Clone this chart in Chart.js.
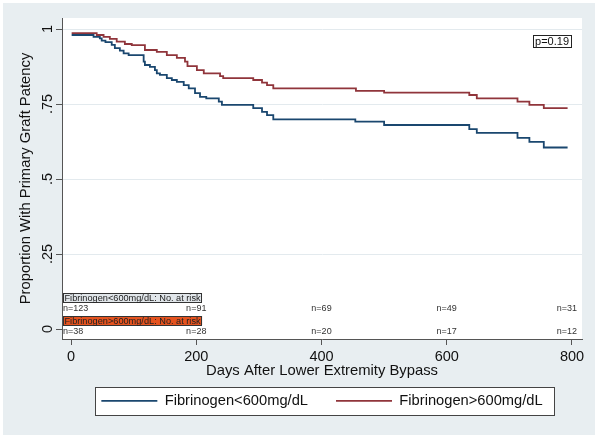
<!DOCTYPE html>
<html>
<head>
<meta charset="utf-8">
<script src="https://cdn.jsdelivr.net/npm/chart.js@4.4.1/dist/chart.umd.min.js"></script>
<style>
  html, body { margin: 0; padding: 0; background: #fff; }
  #wrap { width: 601px; height: 439px; }
</style>
</head>
<body>
<div id="wrap"><canvas id="km" width="601" height="439"></canvas></div>
<script>
// Kaplan-Meier steps (day of event, proportion after it)
const lowDays = [1, 36, 46, 49, 55, 65, 70, 78, 84, 92, 116, 118, 126, 134, 137, 142, 153, 161, 169, 180,
  188, 198, 206, 216, 236, 241, 291, 305, 313, 323, 454, 500, 636, 648, 713, 732, 755, 793];
const lowSurv = [.980, .974, .969, .961, .956, .947, .936, .928, .919, .913, .891, .880, .874, .863, .852, .847, .836, .830, .824, .813,
  .802, .786, .774, .769, .758, .747, .736, .724, .713, .699, .691, .680, .666, .654, .637, .624, .605, .605];

const highDays = [1, 41, 52, 62, 73, 86, 97, 118, 137, 153, 169, 182, 186, 201, 212, 238, 243, 291, 305, 313,
  323, 455, 500, 636, 648, 713, 732, 755, 793];
const highSurv = [.986, .980, .974, .967, .958, .950, .946, .930, .924, .913, .904, .891, .876, .863, .852, .843, .836, .830, .821, .813,
  .802, .794, .788, .780, .769, .758, .747, .736, .736];

const seriesNames = ['Fibrinogen<600mg/dL', 'Fibrinogen>600mg/dL'];
const seriesColors = ['#1a476f', '#90353b'];

// number at risk table
const riskDays = [0, 200, 400, 600, 800];
const riskLow = [123, 91, 69, 49, 31];
const riskHigh = [38, 28, 20, 17, 12];

const xTicks = [0, 200, 400, 600, 800];
const yTicks = [0, .25, .5, .75, 1];
const yTickLabels = ['0', '.25', '.5', '.75', '1'];
const pValue = 'p=0.19';

const FONT = '"Liberation Sans", Arial, sans-serif';
Chart.defaults.font.family = FONT;
Chart.defaults.color = '#111';

function toPoints(days, surv) {
  return days.map((d, i) => ({ x: d, y: surv[i] }));
}

const stataPlugin = {
  id: 'stata',
  beforeDraw(chart) {
    const { ctx, chartArea: a } = chart;
    ctx.save();
    ctx.fillStyle = '#e8eef1';
    ctx.fillRect(3, 3, 592, 432);
    ctx.fillStyle = '#ffffff';
    ctx.fillRect(a.left, a.top, a.right - a.left, a.bottom - a.top);
    // frame round the legend
    const hb = chart.legend.legendHitBoxes;
    if (hb && hb.length) {
      const last = hb[hb.length - 1];
      const l = hb[0].left - 6;
      const r = last.left + last.width + 12;
      const cy = hb[0].top + hb[0].height / 2;
      ctx.fillStyle = '#ffffff';
      ctx.fillRect(l, cy - 14, r - l, 28);
      ctx.strokeStyle = '#444';
      ctx.lineWidth = 1;
      ctx.strokeRect(Math.round(l) + 0.5, Math.round(cy - 14) + 0.5, Math.round(r - l), 28);
    }
    ctx.restore();
  },
  afterDraw(chart) {
    const { ctx, chartArea: a } = chart;
    const xs = chart.scales.x, ys = chart.scales.y;
    ctx.save();

    // y tick labels, turned like Stata does
    ctx.fillStyle = '#111';
    ctx.font = '14.5px ' + FONT;
    ctx.textAlign = 'center';
    ctx.textBaseline = 'alphabetic';
    yTicks.forEach((v, i) => {
      ctx.save();
      ctx.translate(52, ys.getPixelForValue(v));
      ctx.rotate(-Math.PI / 2);
      ctx.fillText(yTickLabels[i], 0, 0);
      ctx.restore();
    });

    // number at risk
    function header(text, y, fill) {
      ctx.font = '9.2px ' + FONT;
      ctx.textAlign = 'left';
      ctx.textBaseline = 'middle';
      const w = ctx.measureText(text).width;
      ctx.fillStyle = fill;
      ctx.fillRect(a.left + 1, y - 4.5, w + 3, 9);
      ctx.strokeStyle = '#333';
      ctx.lineWidth = 1;
      ctx.strokeRect(a.left + 1.5, Math.round(y - 4.5) + 0.5, Math.round(w + 2), 9);
      ctx.fillStyle = '#222';
      ctx.fillText(text, a.left + 2.5, y + 0.5);
    }
    function row(vals, y) {
      ctx.font = '9px ' + FONT;
      ctx.textAlign = 'left';
      ctx.textBaseline = 'middle';
      ctx.fillStyle = '#333';
      vals.forEach((n, i) => {
        const t = 'n=' + n;
        const w = ctx.measureText(t).width;
        let x = xs.getPixelForValue(riskDays[i]) - w / 2;
        x = Math.max(a.left + 1, Math.min(x, a.right - 5 - w));
        ctx.fillText(t, x, y);
      });
    }
    header(seriesNames[0] + ': No. at risk', a.bottom - 41.5, '#e1e6ea');
    row(riskLow, a.bottom - 30);
    header(seriesNames[1] + ': No. at risk', a.bottom - 18.5, '#e5531f');
    row(riskHigh, a.bottom - 7.5);

    // log-rank p value
    ctx.font = '11px ' + FONT;
    const pw = ctx.measureText(pValue).width;
    const px = a.right - 11 - pw - 4;
    const py = a.top + 17;
    ctx.fillStyle = '#fff';
    ctx.fillRect(px, py, pw + 4, 12);
    ctx.strokeStyle = '#222';
    ctx.strokeRect(Math.round(px) + 0.5, py + 0.5, Math.round(pw + 4), 12);
    ctx.fillStyle = '#111';
    ctx.textAlign = 'left';
    ctx.textBaseline = 'middle';
    ctx.fillText(pValue, px + 2, py + 6.5);
    ctx.restore();
  }
};

new Chart(document.getElementById('km'), {
  type: 'line',
  data: {
    datasets: [
      {
        label: seriesNames[0],
        data: toPoints(lowDays, lowSurv),
        borderColor: seriesColors[0],
        backgroundColor: seriesColors[0],
        borderWidth: 1.8,
        stepped: 'before',
        pointRadius: 0,
        fill: false
      },
      {
        label: seriesNames[1],
        data: toPoints(highDays, highSurv),
        borderColor: seriesColors[1],
        backgroundColor: seriesColors[1],
        borderWidth: 1.8,
        stepped: 'before',
        pointRadius: 0,
        fill: false
      }
    ]
  },
  options: {
    responsive: false,
    devicePixelRatio: 1,
    animation: false,
    layout: { padding: { left: 0, top: 18, right: 19, bottom: 20.7 } },
    plugins: {
      legend: {
        position: 'bottom',
        fullSize: false,
        labels: { boxWidth: 56, boxHeight: 0, padding: 28, color: '#111', font: { size: 14.7 } }
      },
      tooltip: { enabled: false }
    },
    scales: {
      x: {
        type: 'linear',
        min: -14.4,
        max: 816,
        afterBuildTicks: s => { s.ticks = xTicks.map(v => ({ value: v })); },
        afterFit: s => { s.height = 26.6; },
        grid: { drawOnChartArea: false, tickLength: 6, tickColor: '#555', color: '#555' },
        border: { color: '#555', width: 1 },
        ticks: { padding: 3, maxRotation: 0, color: '#111', font: { size: 14.5 } },
        title: {
          display: true,
          text: 'Days After Lower Extremity Bypass',
          color: '#111',
          font: { size: 14.8 },
          padding: { top: 0, bottom: -14 }
        }
      },
      y: {
        type: 'linear',
        min: -0.0333,
        max: 1.0367,
        afterBuildTicks: s => { s.ticks = yTicks.map(v => ({ value: v })); },
        afterFit: s => { s.width = 62; },
        grid: {
          color: c => (c.tick && c.tick.value === 0) ? 'rgba(0,0,0,0)' : '#e3eaee',
          tickColor: '#555',
          tickLength: 6
        },
        border: { color: '#555', width: 1 },
        ticks: { display: false },
        title: {
          display: true,
          text: 'Proportion With Primary Graft Patency',
          color: '#111',
          font: { size: 14.8 },
          padding: { top: 17, bottom: 0 }
        }
      }
    }
  },
  plugins: [stataPlugin]
});
</script>
</body>
</html>
